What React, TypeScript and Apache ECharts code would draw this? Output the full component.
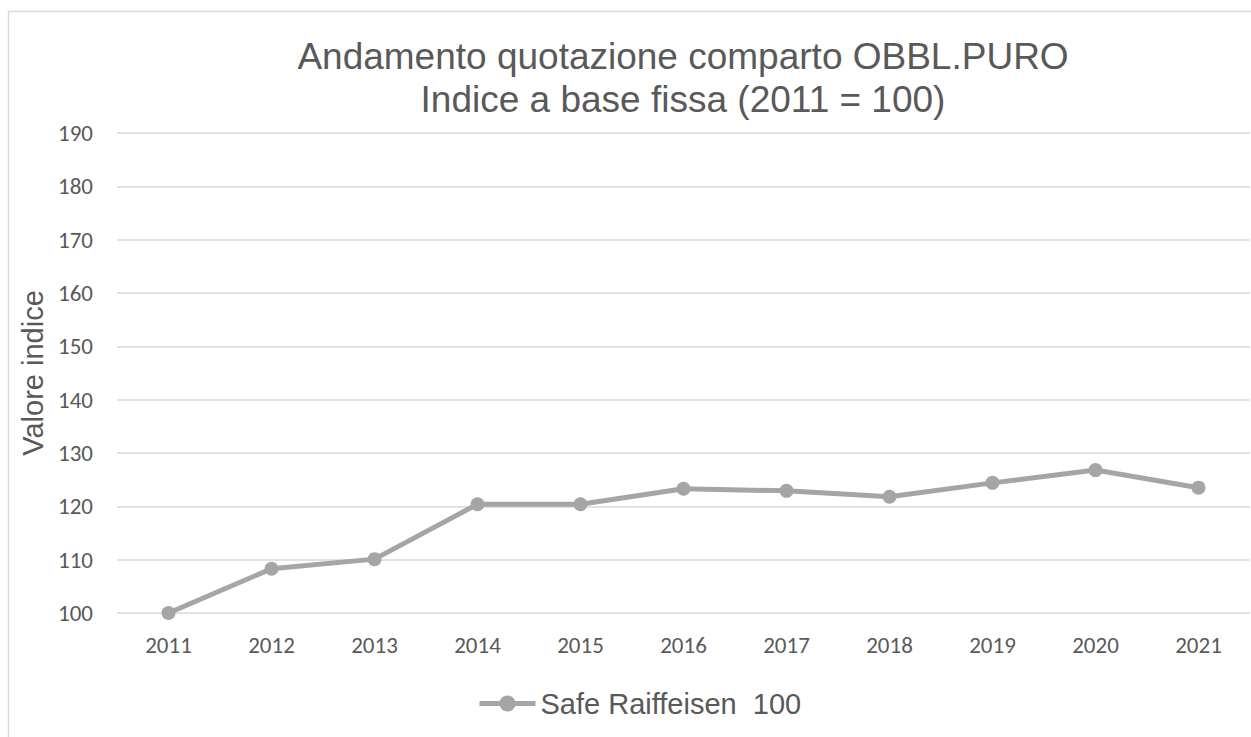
import React, { useEffect, useRef } from "react";
import * as echarts from "echarts";

const years = ["2011", "2012", "2013", "2014", "2015", "2016", "2017", "2018", "2019", "2020", "2021"];
const safeRaiffeisen = [100, 108.3, 110.1, 120.4, 120.4, 123.3, 122.9, 121.8, 124.4, 126.8, 123.5];
const seriesName = "Safe Raiffeisen  100";
const titleLines = ["Andamento quotazione comparto OBBL.PURO", "Indice a base fissa (2011 = 100)"];
const yAxisName = "Valore indice";

export default function App() {
  const ref = useRef<HTMLDivElement>(null);
  useEffect(() => {
    if (!ref.current) return;
    const chart = echarts.init(ref.current, null, { renderer: "svg" });
    chart.setOption({
      animation: false,
      backgroundColor: "#ffffff",
      graphic: [
        {
          type: "rect",
          shape: { x: 8.5, y: 11.5, width: 1300, height: 800 },
          style: { fill: "none", stroke: "#d9d9d9", lineWidth: 1.5 },
          silent: true,
        },
      ],
      title: {
        text: titleLines.join("\n"),
        left: 683,
        textAlign: "center",
        top: 35,
        padding: 0,
        textStyle: {
          fontFamily: "Liberation Sans, Arial, sans-serif",
          fontSize: 37,
          fontWeight: "normal",
          color: "#595959",
          lineHeight: 43,
        },
      },
      legend: {
        bottom: 14,
        left: 472,
        itemWidth: 56,
        itemHeight: 20,
        itemGap: 4,
        lineStyle: { width: 5 },
        textStyle: {
          fontFamily: "Liberation Sans, Arial, sans-serif",
          fontSize: 29,
          color: "#595959",
        },
        data: [seriesName],
      },
      grid: { left: 117, right: 1, top: 133, bottom: 124, containLabel: false },
      xAxis: {
        type: "category",
        data: years,
        boundaryGap: true,
        axisLine: { show: false },
        axisTick: { show: false },
        axisLabel: {
          margin: 20,
          fontFamily: "Carlito, Calibri, 'Open Sans', sans-serif",
          fontSize: 23,
          color: "#595959",
        },
      },
      yAxis: {
        type: "value",
        min: 100,
        max: 190,
        interval: 10,
        name: yAxisName,
        nameLocation: "middle",
        nameGap: 70,
        nameTextStyle: {
          fontFamily: "Liberation Sans, Arial, sans-serif",
          fontSize: 29,
          color: "#595959",
        },
        axisLine: { show: false },
        axisTick: { show: false },
        splitLine: { lineStyle: { color: "#d9d9d9", width: 1.5 } },
        axisLabel: {
          margin: 24,
          fontFamily: "Carlito, Calibri, 'Open Sans', sans-serif",
          fontSize: 23,
          color: "#595959",
        },
      },
      series: [
        {
          name: seriesName,
          type: "line",
          data: safeRaiffeisen,
          symbol: "circle",
          symbolSize: 14,
          lineStyle: { color: "#a5a5a5", width: 5 },
          itemStyle: { color: "#a5a5a5" },
        },
      ],
    });
    return () => chart.dispose();
  }, []);
  return (
    <div
      ref={ref}
      style={{ position: "absolute", left: 0, top: 0, width: 1251, height: 737 }}
    />
  );
}
